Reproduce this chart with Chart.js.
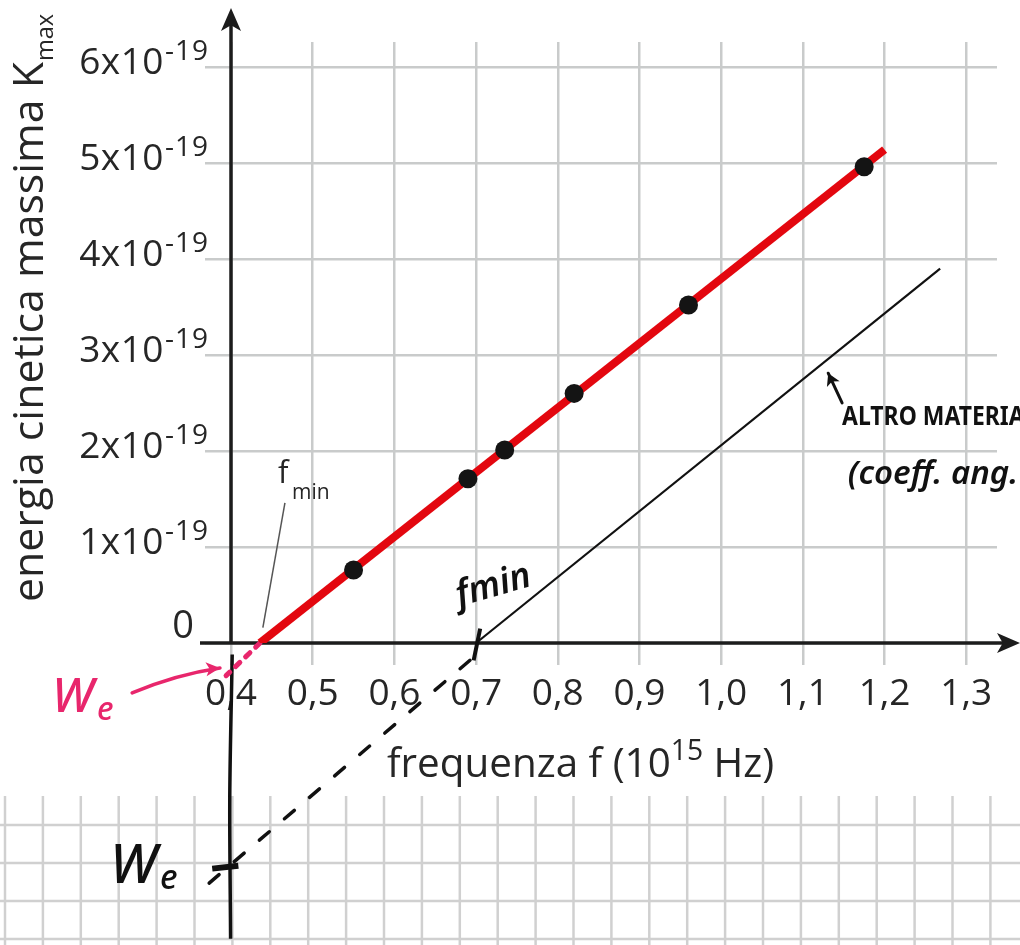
<!DOCTYPE html>
<html>
<head>
<meta charset="utf-8">
<script src="https://cdn.jsdelivr.net/npm/chart.js@4.4.1/dist/chart.umd.min.js"></script>
<style>
  html, body { margin: 0; padding: 0; background: #fff; }
  canvas { display: block; }
</style>
</head>
<body>
<canvas id="fotoChart" width="1020" height="945"></canvas>
<script>
// punti misurati: frequenza (10^15 Hz) e energia cinetica massima (10^-19 J)
const freq = [0.55, 0.69, 0.735, 0.82, 0.96, 1.175];
const kmax = [0.76, 1.71, 2.01, 2.60, 3.52, 4.96];

// retta rossa del grafico
const fitFreq = [0.4355, 1.2];
const fitK = [0, 5.14];

// prolungamento rosa fino all'asse (W_e)
const pinkFreq = [0.4355, 0.394];
const pinkK = [0, -0.34];

// retta a penna: altro materiale
const altFreq = [0.7, 1.268];
const altK = [0, 3.9];
const altDashFreq = [0.6925, 0.3596];
const altDashK = [-0.18, -2.6];

// asse verticale a penna, trattino di W_e, trattino di f_min
const penFreq = [0.4015, 0.3985, 0.3995];
const penK = [-0.12, -1.6, -3.08];
const markFreq = [0.377, 0.409];
const markK = [-2.35, -2.32];
const fminMarkFreq = [0.705, 0.697];
const fminMarkK = [0.15, -0.18];

// linea di richiamo "f min"
const leadFreq = [0.439, 0.466];
const leadK = [0.16, 1.46];

// tacche
const xTicks = [0.4, 0.5, 0.6, 0.7, 0.8, 0.9, 1.0, 1.1, 1.2, 1.3];
const xTickLabels = ['0,4', '0,5', '0,6', '0,7', '0,8', '0,9', '1,0', '1,1', '1,2', '1,3'];
const yTicks = [0, 1, 2, 3, 4, 5, 6];
const yTickLabels = ['0', '1x10', '2x10', '3x10', '4x10', '5x10', '6x10'];
const yTickExp = ['', '-19', '-19', '-19', '-19', '-19', '-19'];

const pts = (xs, ys) => xs.map((x, i) => ({ x, y: ys[i] }));

const FONT = '"Open Sans", "DejaVu Sans", sans-serif';
const PEN = '"Noto Sans", "DejaVu Sans", sans-serif';
const INK = '#262626';
const PINK = '#e8266c';
const GRID = '#c9cbcb';

function fitSize(ctx, text, weight, family, width) {
  ctx.font = weight + ' 100px ' + family;
  return 100 * width / ctx.measureText(text).width;
}

function arrowHead(c, tx, ty, fx, fy, len, half) {
  const a = Math.atan2(ty - fy, tx - fx);
  c.beginPath();
  c.moveTo(tx, ty);
  c.lineTo(tx - len * Math.cos(a) + half * Math.sin(a), ty - len * Math.sin(a) - half * Math.cos(a));
  c.lineTo(tx - len * 0.75 * Math.cos(a), ty - len * 0.75 * Math.sin(a));
  c.lineTo(tx - len * Math.cos(a) - half * Math.sin(a), ty - len * Math.sin(a) + half * Math.cos(a));
  c.closePath();
  c.fill();
}

const quaderno = {
  id: 'quaderno',
  beforeDraw(chart) {
    const c = chart.ctx;
    c.save();
    c.fillStyle = '#fff';
    c.fillRect(0, 0, chart.width, chart.height);
    // foglio a quadretti in basso
    c.strokeStyle = '#d0d0d0';
    c.lineWidth = 2.5;
    for (let x = 5; x < chart.width; x += 37.9) {
      c.beginPath(); c.moveTo(x, 796); c.lineTo(x, chart.height); c.stroke();
    }
    for (let y = 825; y < chart.height; y += 38) {
      c.beginPath(); c.moveTo(0, y); c.lineTo(chart.width, y); c.stroke();
    }
    c.restore();
  },
  beforeDatasetsDraw(chart) {
    const c = chart.ctx;
    const xs = chart.scales.x, ys = chart.scales.y;
    const x0 = xs.getPixelForValue(0.4), y0 = ys.getPixelForValue(0);
    c.save();
    c.strokeStyle = '#1c1c1c';
    c.fillStyle = '#1c1c1c';
    c.lineWidth = 3.5;
    c.beginPath(); c.moveTo(x0 - 31, y0); c.lineTo(chart.width - 12, y0); c.stroke();
    arrowHead(c, chart.width, y0, x0, y0, 23, 10);
    c.beginPath(); c.moveTo(x0, y0); c.lineTo(x0, 20); c.stroke();
    arrowHead(c, x0, 8, x0, y0, 23, 10);
    c.restore();
  },
  afterDraw(chart) {
    const c = chart.ctx;
    const xs = chart.scales.x, ys = chart.scales.y;
    const px = v => xs.getPixelForValue(v), py = v => ys.getPixelForValue(v);
    c.save();
    c.fillStyle = INK;
    c.textBaseline = 'alphabetic';

    // etichette asse y con esponente
    yTicks.forEach((v, i) => {
      const gy = py(v);
      if (!yTickExp[i]) {
        c.font = '38px ' + FONT;
        c.textAlign = 'right';
        c.fillText(yTickLabels[i], 194, gy - 5);
        return;
      }
      c.font = '28px ' + FONT;
      c.textAlign = 'right';
      c.letterSpacing = '1px';
      const ew = c.measureText(yTickExp[i]).width;
      c.fillText(yTickExp[i], 209, gy - 7);
      c.font = '37px ' + FONT;
      c.letterSpacing = '0.5px';
      c.fillText(yTickLabels[i], 209 - ew - 1, gy + 7);
      c.letterSpacing = '0px';
    });

    // titolo asse x
    c.textAlign = 'left';
    const xt1 = 'frequenza f (10', xt2 = '15', xt3 = ' Hz)';
    let s = fitSize(c, xt1 + xt3, '', FONT, 355);
    c.font = s + 'px ' + FONT;
    c.fillText(xt1, 387, 777);
    let w1 = c.measureText(xt1).width;
    c.font = (s * 0.7) + 'px ' + FONT;
    c.fillText(xt2, 387 + w1, 760);
    let w2 = c.measureText(xt2).width;
    c.font = s + 'px ' + FONT;
    c.fillText(xt3, 387 + w1 + w2, 777);

    // titolo asse y (ruotato)
    const yt1 = 'energia cinetica massima K', yt2 = 'max';
    c.save();
    c.translate(43, 602);
    c.rotate(-Math.PI / 2);
    s = fitSize(c, yt1, '', FONT, 540);
    c.font = s + 'px ' + FONT;
    c.fillText(yt1, 0, 0);
    w1 = c.measureText(yt1).width;
    c.font = (s * 0.55) + 'px ' + FONT;
    c.fillText(yt2, w1 + 1, 10);
    c.restore();

    // etichetta f min
    c.font = '31px ' + FONT;
    c.fillText('f', px(0.4575), py(1.667));
    c.font = '21px ' + FONT;
    c.fillText('min', px(0.4575) + 14, py(1.50));

    // appunti a penna (rosa)
    c.fillStyle = PINK;
    c.strokeStyle = PINK;
    c.font = 'italic 500 48px ' + PEN;
    c.fillText('W', px(0.181), py(-0.72));
    c.font = 'italic 500 32px ' + PEN;
    c.fillText('e', px(0.181) + 45, py(-0.80));
    c.lineWidth = 3.5;
    c.lineCap = 'round';
    c.beginPath();
    c.moveTo(px(0.279), py(-0.52));
    c.quadraticCurveTo(px(0.3315), py(-0.33), px(0.3865), py(-0.26));
    c.stroke();
    arrowHead(c, px(0.3865), py(-0.26), px(0.3315), py(-0.30), 14, 7);

    // appunti a penna (neri)
    c.fillStyle = '#111';
    c.strokeStyle = '#111';
    c.font = 'italic 500 54px ' + PEN;
    c.fillText('W', px(0.252), py(-2.50));
    c.font = 'italic 500 34px ' + PEN;
    c.fillText('e', px(0.252) + 50, py(-2.56));

    c.save();
    c.translate(px(0.722), py(0.57));
    c.rotate(-0.28);
    c.font = 'italic 600 36px ' + PEN;
    c.textAlign = 'center';
    c.fillText('fmin', 0, 8);
    c.restore();

    c.save();
    c.translate(px(1.148), py(2.27));
    c.scale(0.85, 1);
    c.font = 'bold 27px ' + PEN;
    c.fillText('ALTRO MATERIALE', 0, 0);
    c.restore();
    c.font = 'italic 600 33px ' + PEN;
    c.fillText('(coeff. ang.', px(1.155), py(1.66));
    c.lineWidth = 3;
    c.beginPath();
    c.moveTo(px(1.148), py(2.5));
    c.lineTo(px(1.131), py(2.81));
    c.stroke();
    arrowHead(c, px(1.131), py(2.81), px(1.148), py(2.5), 12, 7);

    c.restore();
  }
};

const ctx = document.getElementById('fotoChart');

new Chart(ctx, {
  type: 'scatter',
  data: {
    datasets: [
      {
        // punti misurati
        data: pts(freq, kmax),
        pointRadius: 9.5,
        pointBackgroundColor: '#141414',
        pointBorderWidth: 0,
        showLine: false
      },
      {
        data: pts(fitFreq, fitK),
        showLine: true,
        borderColor: '#e3070f',
        borderWidth: 8,
        pointRadius: 0
      },
      {
        data: pts(pinkFreq, pinkK),
        showLine: true,
        borderColor: PINK,
        borderWidth: 5,
        borderDash: [6, 8],
        borderCapStyle: 'round',
        pointRadius: 0,
        clip: false
      },
      {
        data: pts(altFreq, altK),
        showLine: true,
        borderColor: '#111',
        borderWidth: 2.2,
        pointRadius: 0,
        clip: false
      },
      {
        data: pts(altDashFreq, altDashK),
        showLine: true,
        borderColor: '#111',
        borderWidth: 3.5,
        borderDash: [13, 20],
        borderCapStyle: 'round',
        pointRadius: 0,
        clip: false
      },
      {
        data: pts(penFreq, penK),
        showLine: true,
        borderColor: '#111',
        borderWidth: 3.5,
        tension: 0.3,
        pointRadius: 0,
        clip: false
      },
      {
        data: pts(markFreq, markK),
        showLine: true,
        borderColor: '#111',
        borderWidth: 6,
        pointRadius: 0,
        clip: false
      },
      {
        data: pts(fminMarkFreq, fminMarkK),
        showLine: true,
        borderColor: '#111',
        borderWidth: 4,
        pointRadius: 0,
        clip: false
      },
      {
        // richiamo f min
        data: pts(leadFreq, leadK),
        showLine: true,
        borderColor: '#555',
        borderWidth: 1.5,
        pointRadius: 0
      }
    ]
  },
  options: {
    responsive: false,
    animation: false,
    layout: {
      padding: { left: 0, top: 42, right: 23, bottom: 0 }
    },
    plugins: {
      legend: { display: false },
      tooltip: { enabled: false }
    },
    scales: {
      x: {
        type: 'linear',
        min: 0.4,
        max: 1.3376,
        afterBuildTicks: s => { s.ticks = xTicks.map(v => ({ value: v })); },
        afterFit: s => { s.height = 302; },
        border: { display: false },
        grid: { color: GRID, lineWidth: 2.5, tickLength: 22 },
        ticks: {
          color: INK,
          padding: 7,
          maxRotation: 0,
          autoSkip: false,
          font: { size: 37, family: FONT },
          callback: (v, i) => xTickLabels[i]
        }
      },
      y: {
        type: 'linear',
        min: 0,
        max: 6.26,
        afterBuildTicks: s => { s.ticks = yTicks.map(v => ({ value: v })); },
        afterFit: s => { s.width = 231; },
        border: { display: false },
        grid: { color: GRID, lineWidth: 2.5, tickLength: 26 },
        ticks: { display: false }
      }
    }
  },
  plugins: [quaderno]
});
</script>
</body>
</html>
